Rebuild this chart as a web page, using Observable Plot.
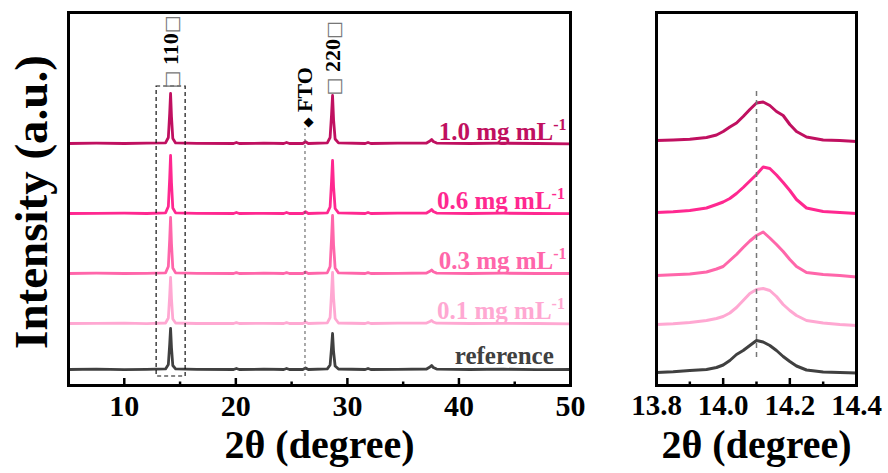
<!DOCTYPE html>
<html>
<head>
<meta charset="utf-8">
<script src="https://cdn.jsdelivr.net/npm/d3@7"></script>
<script src="https://cdn.jsdelivr.net/npm/@observablehq/plot@0.6"></script>
<style>
  html, body { margin: 0; padding: 0; background: #fff; }
  #wrap { position: relative; width: 888px; height: 473px; overflow: hidden; }
  #left, #right { position: absolute; top: 0; }
  #left { left: 0; }
  #right { left: 600px; }
  svg { overflow: visible; }
</style>
</head>
<body>
<div id="wrap"><div id="left"></div><div id="right"></div></div>
<script>
// ---------- data ----------
const seriesLabels = ["reference", "0.1 mg mL-1", "0.3 mg mL-1", "0.6 mg mL-1", "1.0 mg mL-1"];
const seriesColors = ["#404040", "#FFA8D2", "#FF66AA", "#FF2890", "#C01060"];
const leftOffsets = [16, 62, 112, 172, 242];
const rightOffsets = [13, 61, 110, 173, 245];
const labelX = [48.5, 49.5, 49.65, 49.5, 49.65];
const labelLift = [6, 5, 5, 5, 4];

// full-range pattern (2θ, degrees)
const leftX = [5, 7.5, 10, 12, 13.7, 13.95, 14.07, 14.15, 14.23, 14.35, 14.6, 16.5, 19.8, 20.05, 20.3, 22.5, 24.3, 24.55, 24.8, 26.0, 26.25, 26.5, 28.2, 28.45, 28.58, 28.67, 28.76, 28.9, 29.2, 31.6, 31.85, 32.1, 34.5, 37.1, 37.4, 37.55, 37.7, 38.0, 41, 44, 47, 50];
const leftRef = [0, 0.3, -0.2, 0.2, 0.6, 5, 25, 41, 22, 4, 0.6, 0.2, 0, 1, 0, 0.3, 0, 1, 0, 0, 1.5, 0, 0.6, 4.5, 22, 36, 18, 3.5, 0.5, 0, 1, 0, 0.2, 0.5, 2.5, 4, 2, 0.4, 0, 0.3, -0.2, 0];
const left01 = [0, 0.2, 0.3, -0.2, 0.5, 5.5, 28, 46, 25, 4.5, 0.5, 0, 0, 0.8, 0, 0.2, 0, 0.8, 0, 0, 1.5, 0, 0.6, 6, 31, 51, 26, 5, 0.5, 0, 0.8, 0, 0.3, 0.4, 2, 3, 1.5, 0.3, 0, 0.2, 0, -0.3];
const left03 = [0, 0.3, 0, 0.2, 0.6, 7, 34, 56, 30, 5.5, 0.6, 0.2, 0, 0.9, 0, 0.3, 0, 0.8, 0, 0, 1.5, 0, 0.7, 7, 35, 58, 29, 5.5, 0.6, 0, 0.9, 0, 0.2, 0.5, 2.2, 3.5, 1.7, 0.4, 0, 0.3, 0, 0];
const left06 = [0, 0.2, 0.3, 0, 0.6, 7, 35, 58, 31, 5.5, 0.6, 0.2, 0, 1, 0, 0.2, 0, 1, 0, 0, 1.8, 0, 0.7, 6.5, 32, 53, 27, 5, 0.6, 0, 1, 0, 0.3, 0.5, 2.5, 4, 2, 0.4, 0, 0.3, 0, -0.2];
const left10 = [0, 0.3, 0, 0.3, 0.6, 6, 30, 50, 27, 5, 0.6, 0.2, 0, 1, 0, 0.3, 0, 1, 0, 0, 1.8, 0, 0.7, 6, 29, 48, 24, 4.5, 0.6, 0, 1, 0, 0.3, 0.5, 2.5, 4, 2, 0.4, 0, 0.3, 0, -0.3];

// zoom on (110) peak
const rightX = [13.80, 13.85, 13.90, 13.95, 13.98, 14.00, 14.02, 14.04, 14.06, 14.08, 14.10, 14.12, 14.14, 14.16, 14.18, 14.20, 14.22, 14.25, 14.30, 14.35, 14.40];
const rightRef = [0, 0.8, 2, 3, 5, 7.5, 12, 18, 22, 27, 32, 30.5, 27, 22, 16, 11, 6.5, 2.5, 0.5, 0, -0.5];
const right01 = [0, 0.8, 2, 4, 6, 8, 11.5, 17, 24, 31, 35, 36, 34, 28, 20, 14, 9, 4, 1.5, 0, -1];
const right03 = [0, 0.7, 1.5, 3.5, 6.5, 9, 15, 21, 28, 34.5, 40, 43.5, 37.5, 31, 24, 16, 9, 3, 1, 0, -1.5];
const right06 = [0, 0.7, 2, 4.5, 8, 10.5, 14, 19, 25, 31.5, 38, 45.5, 44, 37.5, 30, 22, 13, 4.5, 1, 0, -1];
const right10 = [0, 0.5, 1.2, 3, 5.5, 9, 13.5, 17.5, 24, 31, 37.5, 38.5, 35, 29, 25, 16, 9, 3.5, 0.5, 0, -1];

// ticks
const leftMajor = [10, 20, 30, 40];
const leftMinor = [15, 25, 35, 45];
const leftTickLabels = [10, 20, 30, 40, 50];
const rightMajor = [14.0, 14.2];
const rightMinor = [13.9, 14.1, 14.3];
const rightTickLabels = [13.8, 14.0, 14.2, 14.4];

// annotations
const annoText = ["□ 110□", "◆ FTO", "□ 220□"];
const annoX = [14.2, 26.2, 28.75];
const annoY = [297, 258, 290];
const boxX = [12.9, 15.5];
const boxY = [9, 299];
const ftoLineX = [26.2];
const ftoLineY = [9, 257];
const zoomLineX = [14.1];
const zoomLineY = [28, 296];
const xTitle = "2θ (degree)";
const yTitle = "Intensity (a.u.)";

// ---------- build ----------
const leftSeries = [leftRef, left01, left03, left06, left10];
const rightSeries = [rightRef, right01, right03, right06, right10];
const font = "'Liberation Serif', 'Times New Roman', serif";

function rows(xs, ys, off) { return xs.map((x, i) => ({x, y: ys[i] + off})); }

const leftLines = leftSeries.map((s, k) =>
  Plot.line(rows(leftX, s, leftOffsets[k]), {x: "x", y: "y", stroke: seriesColors[k], strokeWidth: 2.8, strokeLinejoin: "round"}));
const rightLines = rightSeries.map((s, k) =>
  Plot.line(rows(rightX, s, rightOffsets[k]), {x: "x", y: "y", stroke: seriesColors[k], strokeWidth: 3, strokeLinejoin: "round"}));

const labelRows = seriesLabels.map((t, k) => ({x: labelX[k], y: leftOffsets[k] + labelLift[k], t, c: seriesColors[k]}));
const annoRows = annoText.map((t, k) => ({x: annoX[k], y: annoY[k], t}));

const common = {
  height: 473, marginTop: 12, marginBottom: 88,
  y: {domain: [0, 373], axis: null},
  style: {fontFamily: font, fontWeight: "bold", background: "transparent", color: "black"}
};

const left = Plot.plot({
  ...common,
  width: 590, marginLeft: 68, marginRight: 20,
  x: {domain: [5, 50]},
  marks: [
    ...leftLines,
    Plot.rect([0], {x1: () => boxX[0], x2: () => boxX[1], y1: () => boxY[0], y2: () => boxY[1], fill: "none", stroke: "#111", strokeWidth: 1.2, strokeDasharray: "4,3"}),
    Plot.ruleX(ftoLineX, {x: d => d, y1: ftoLineY[0], y2: ftoLineY[1], stroke: "#555", strokeWidth: 1, strokeDasharray: "3,3"}),
    Plot.text(annoRows, {x: "x", y: "y", text: "t", rotate: -90, textAnchor: "start", lineAnchor: "middle", fontSize: 22}),
    Plot.text(labelRows, {x: "x", y: "y", text: "t", fill: "c", textAnchor: "end", lineAnchor: "bottom", fontSize: 25}),
    Plot.ruleX(leftMajor, {x: d => d, y1: 0, y2: 7, stroke: "black", strokeWidth: 2.5}),
    Plot.ruleX(leftMinor, {x: d => d, y1: 0, y2: 3.5, stroke: "black", strokeWidth: 2.5}),
    Plot.axisX(leftTickLabels, {tickSize: 0, tickPadding: 9, fontSize: 30, label: null, tickFormat: d => String(d)}),
    Plot.text([xTitle], {text: d => d, frameAnchor: "bottom", textAnchor: "middle", dy: 72, lineAnchor: "bottom", fontSize: 40}),
    Plot.text([yTitle], {text: d => d, frameAnchor: "left", textAnchor: "middle", rotate: -90, dx: -22, dy: 3, lineAnchor: "bottom", fontSize: 47}),
    Plot.frame({stroke: "black", strokeWidth: 3})
  ]
});

const right = Plot.plot({
  ...common,
  width: 288, marginLeft: 56, marginRight: 32,
  x: {domain: [13.8, 14.4]},
  marks: [
    ...rightLines,
    Plot.ruleX(zoomLineX, {x: d => d, y1: zoomLineY[0], y2: zoomLineY[1], stroke: "#777", strokeWidth: 1.5, strokeDasharray: "5,4"}),
    Plot.ruleX(rightMajor, {x: d => d, y1: 0, y2: 7, stroke: "black", strokeWidth: 2.5}),
    Plot.ruleX(rightMinor, {x: d => d, y1: 0, y2: 3.5, stroke: "black", strokeWidth: 2.5}),
    Plot.axisX(rightTickLabels, {tickSize: 0, tickPadding: 9, fontSize: 29, label: null, tickFormat: d3.format(".1f")}),
    Plot.text([xTitle], {text: d => d, frameAnchor: "bottom", textAnchor: "middle", dy: 72, lineAnchor: "bottom", fontSize: 40}),
    Plot.frame({stroke: "black", strokeWidth: 3})
  ]
});

// superscripts and small symbol glyphs
function refine(svg) {
  d3.select(svg).selectAll("text").each(function () {
    const t = this.textContent;
    const el = d3.select(this);
    if (/mL-1$/.test(t)) {
      el.text(null);
      el.append("tspan").text(t.slice(0, -2));
      el.append("tspan").attr("font-size", 16).attr("dy", -10).text("-1");
    } else if (/[□◆]/.test(t)) {
      el.text(null);
      for (const ch of t) {
        if (ch === "□") el.append("tspan").attr("font-size", 19).attr("fill", "#777").attr("font-weight", "normal").attr("font-family", "DejaVu Sans").text(ch);
        else if (ch === "◆") el.append("tspan").attr("font-size", 13).attr("font-family", "DejaVu Sans").text(ch);
        else el.append("tspan").text(ch);
      }
    }
  });
}
refine(left); refine(right);
document.getElementById("left").appendChild(left);
document.getElementById("right").appendChild(right);
</script>
</body>
</html>
